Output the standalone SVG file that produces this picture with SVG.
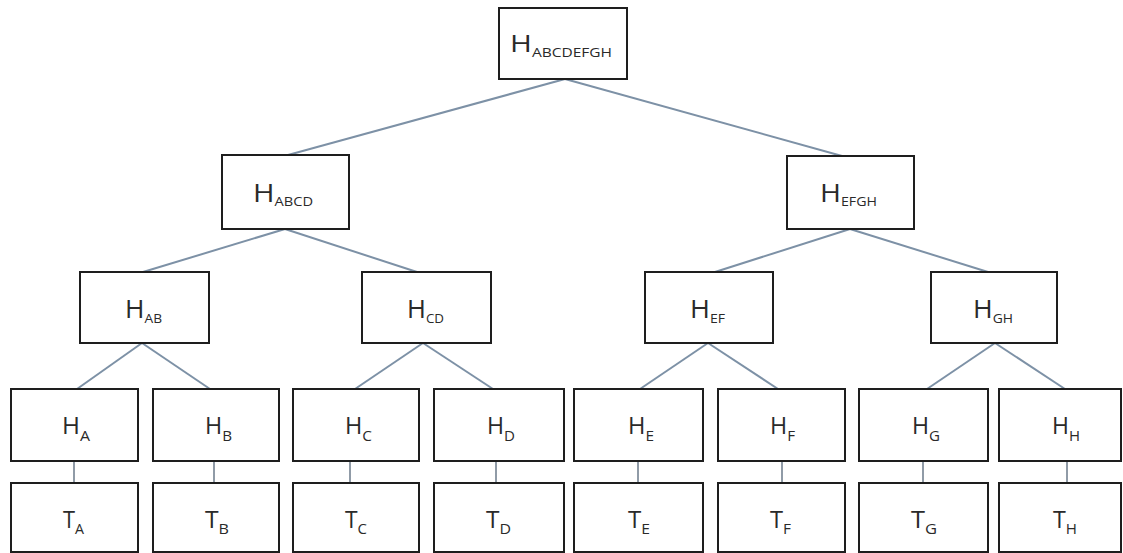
<svg xmlns="http://www.w3.org/2000/svg" width="1123" height="553" viewBox="0 0 1123 553">
<style>
.box{fill:#fff;stroke:#1e1e1e;stroke-width:2}
.edge{stroke:#7d91a6;stroke-width:2;fill:none}
.vedge{stroke:#6b7a8a;stroke-width:1.5;fill:none}
text{font-family:"Open Sans","Liberation Sans",sans-serif;fill:#2a2a2a}
.h{font-size:23px}
.s1{font-size:12px}
.s2{font-size:13px}
.s3{font-size:15px}
</style>
<rect width="1123" height="553" fill="#fff"/>
<g id="connectors">
<line class="edge" x1="565" y1="79" x2="288" y2="155"/>
<line class="edge" x1="565" y1="79" x2="842" y2="156"/>
<line class="edge" x1="285" y1="229" x2="143" y2="272"/>
<line class="edge" x1="285" y1="229" x2="417" y2="272"/>
<line class="edge" x1="850" y1="229" x2="715" y2="272"/>
<line class="edge" x1="850" y1="229" x2="988" y2="272"/>
<line class="edge" x1="142" y1="343" x2="77" y2="389"/>
<line class="edge" x1="142" y1="343" x2="210" y2="389"/>
<line class="edge" x1="423" y1="343" x2="355" y2="389"/>
<line class="edge" x1="423" y1="343" x2="493" y2="389"/>
<line class="edge" x1="708" y1="343" x2="640" y2="389"/>
<line class="edge" x1="708" y1="343" x2="778" y2="389"/>
<line class="edge" x1="995" y1="343" x2="927" y2="389"/>
<line class="edge" x1="995" y1="343" x2="1065" y2="389"/>
<line class="vedge" x1="74" y1="461" x2="74" y2="483"/>
<line class="vedge" x1="214" y1="461" x2="214" y2="483"/>
<line class="vedge" x1="350" y1="461" x2="350" y2="483"/>
<line class="vedge" x1="496" y1="461" x2="496" y2="483"/>
<line class="vedge" x1="638" y1="461" x2="638" y2="483"/>
<line class="vedge" x1="782" y1="461" x2="782" y2="483"/>
<line class="vedge" x1="923" y1="461" x2="923" y2="483"/>
<line class="vedge" x1="1067" y1="461" x2="1067" y2="483"/>
</g>
<g id="n-ABCDEFGH"><rect class="box" x="499" y="8" width="128" height="71"/><text x="510" y="52" textLength="102" lengthAdjust="spacingAndGlyphs"><tspan class="h">H</tspan><tspan class="s1" dy="5">ABCDEFGH</tspan></text></g>
<g id="n-ABCD"><rect class="box" x="222" y="155" width="127" height="74"/><text x="253" y="202" textLength="60" lengthAdjust="spacingAndGlyphs"><tspan class="h" style="font-size:26px">H</tspan><tspan class="s2" dy="4">ABCD</tspan></text></g>
<g id="n-EFGH"><rect class="box" x="787" y="156" width="127" height="73"/><text x="820" y="202" textLength="57" lengthAdjust="spacingAndGlyphs"><tspan class="h" style="font-size:26px">H</tspan><tspan class="s2" dy="4">EFGH</tspan></text></g>
<g id="n-AB"><rect class="box" x="80" y="272" width="129" height="71"/><text x="125" y="318" textLength="37" lengthAdjust="spacingAndGlyphs"><tspan class="h" style="font-size:25px">H</tspan><tspan class="s2" dy="5">AB</tspan></text></g>
<g id="n-CD"><rect class="box" x="362" y="272" width="129" height="71"/><text x="407" y="318" textLength="37" lengthAdjust="spacingAndGlyphs"><tspan class="h" style="font-size:25px">H</tspan><tspan class="s2" dy="5">CD</tspan></text></g>
<g id="n-EF"><rect class="box" x="645" y="272" width="128" height="71"/><text x="690" y="318" textLength="35" lengthAdjust="spacingAndGlyphs"><tspan class="h" style="font-size:25px">H</tspan><tspan class="s2" dy="5">EF</tspan></text></g>
<g id="n-GH"><rect class="box" x="931" y="272" width="126" height="71"/><text x="973" y="318" textLength="40" lengthAdjust="spacingAndGlyphs"><tspan class="h" style="font-size:25px">H</tspan><tspan class="s2" dy="5">GH</tspan></text></g>
<g id="n-HA"><rect class="box" x="11" y="389" width="127" height="72"/><text x="62" y="434" textLength="28" lengthAdjust="spacingAndGlyphs"><tspan class="h">H</tspan><tspan class="s3" dy="7">A</tspan></text></g>
<g id="n-HB"><rect class="box" x="153" y="389" width="126" height="72"/><text x="205" y="434" textLength="27" lengthAdjust="spacingAndGlyphs"><tspan class="h">H</tspan><tspan class="s3" dy="7">B</tspan></text></g>
<g id="n-HC"><rect class="box" x="293" y="389" width="126" height="72"/><text x="345" y="434" textLength="27" lengthAdjust="spacingAndGlyphs"><tspan class="h">H</tspan><tspan class="s3" dy="7">C</tspan></text></g>
<g id="n-HD"><rect class="box" x="434" y="389" width="130" height="72"/><text x="487" y="434" textLength="28" lengthAdjust="spacingAndGlyphs"><tspan class="h">H</tspan><tspan class="s3" dy="7">D</tspan></text></g>
<g id="n-HE"><rect class="box" x="574" y="389" width="129" height="72"/><text x="628" y="434" textLength="26" lengthAdjust="spacingAndGlyphs"><tspan class="h">H</tspan><tspan class="s3" dy="7">E</tspan></text></g>
<g id="n-HF"><rect class="box" x="718" y="389" width="127" height="72"/><text x="770" y="434" textLength="25" lengthAdjust="spacingAndGlyphs"><tspan class="h">H</tspan><tspan class="s3" dy="7">F</tspan></text></g>
<g id="n-HG"><rect class="box" x="859" y="389" width="129" height="72"/><text x="912" y="434" textLength="28" lengthAdjust="spacingAndGlyphs"><tspan class="h">H</tspan><tspan class="s3" dy="7">G</tspan></text></g>
<g id="n-HH"><rect class="box" x="999" y="389" width="122" height="72"/><text x="1052" y="434" textLength="28" lengthAdjust="spacingAndGlyphs"><tspan class="h">H</tspan><tspan class="s3" dy="7">H</tspan></text></g>
<g id="n-TA"><rect class="box" x="11" y="483" width="127" height="69"/><text x="63" y="528" textLength="21" lengthAdjust="spacingAndGlyphs"><tspan class="h">T</tspan><tspan class="s3" dy="6">A</tspan></text></g>
<g id="n-TB"><rect class="box" x="153" y="483" width="126" height="69"/><text x="205" y="528" textLength="24" lengthAdjust="spacingAndGlyphs"><tspan class="h">T</tspan><tspan class="s3" dy="6">B</tspan></text></g>
<g id="n-TC"><rect class="box" x="293" y="483" width="126" height="69"/><text x="345" y="528" textLength="22" lengthAdjust="spacingAndGlyphs"><tspan class="h">T</tspan><tspan class="s3" dy="6">C</tspan></text></g>
<g id="n-TD"><rect class="box" x="434" y="483" width="130" height="69"/><text x="486" y="528" textLength="25" lengthAdjust="spacingAndGlyphs"><tspan class="h">T</tspan><tspan class="s3" dy="6">D</tspan></text></g>
<g id="n-TE"><rect class="box" x="574" y="483" width="129" height="69"/><text x="628" y="528" textLength="22" lengthAdjust="spacingAndGlyphs"><tspan class="h">T</tspan><tspan class="s3" dy="6">E</tspan></text></g>
<g id="n-TF"><rect class="box" x="718" y="483" width="127" height="69"/><text x="770" y="528" textLength="21" lengthAdjust="spacingAndGlyphs"><tspan class="h">T</tspan><tspan class="s3" dy="6">F</tspan></text></g>
<g id="n-TG"><rect class="box" x="859" y="483" width="129" height="69"/><text x="911" y="528" textLength="26" lengthAdjust="spacingAndGlyphs"><tspan class="h">T</tspan><tspan class="s3" dy="6">G</tspan></text></g>
<g id="n-TH"><rect class="box" x="999" y="483" width="122" height="69"/><text x="1053" y="528" textLength="24" lengthAdjust="spacingAndGlyphs"><tspan class="h">T</tspan><tspan class="s3" dy="6">H</tspan></text></g>
</svg>
